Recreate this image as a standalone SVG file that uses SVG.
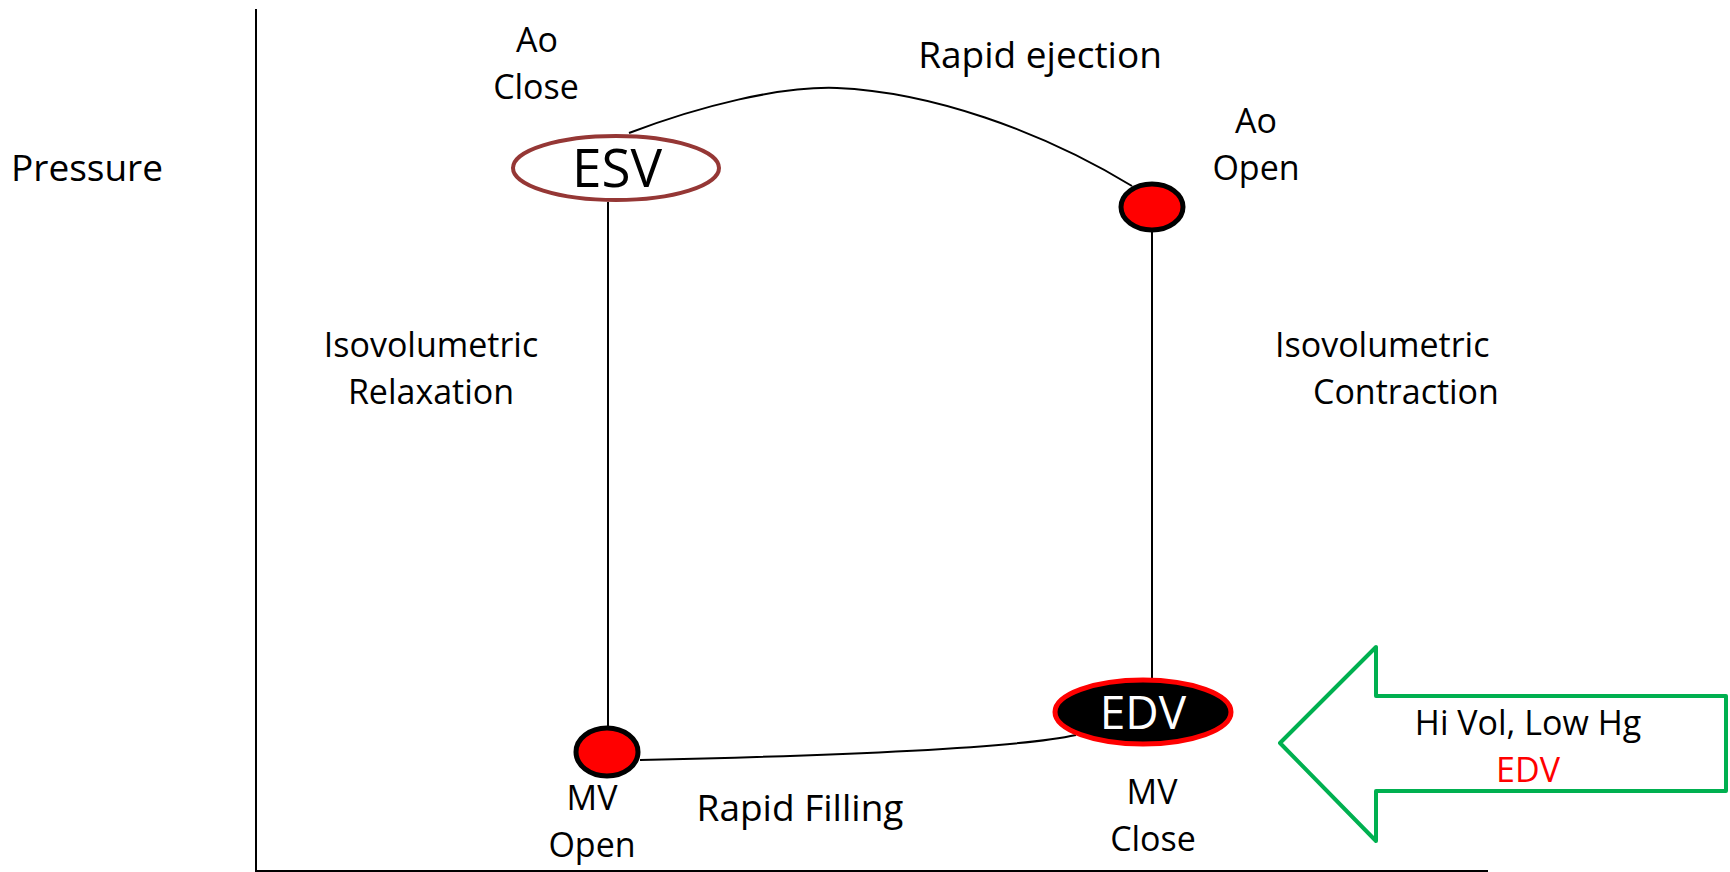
<svg xmlns="http://www.w3.org/2000/svg" width="1730" height="872" viewBox="0 0 1730 872">
<style>
text{font-family:"Comic Sans MS","Open Sans","Liberation Sans",sans-serif;fill:#000;}
.lbl{font-size:34px;}
.big{font-size:37px;}
.c{text-anchor:middle;}
.line{fill:none;stroke:#000;stroke-width:2;}
.dot{fill:#ff0000;stroke:#000;stroke-width:5;}
</style>
<rect width="1730" height="872" fill="#fff"/>
<g id="axes">
<line x1="256" y1="9" x2="256" y2="871" stroke="#000" stroke-width="2"/>
<line x1="255" y1="871" x2="1488" y2="871" stroke="#000" stroke-width="2"/>
<text class="big" x="11" y="181">Pressure</text>
</g>
<g id="connectors">
<path class="line" d="M629,133 C700,106 780,86 837,88 C930,92 1040,130 1132,186"/>
<line class="line" x1="608" y1="202" x2="608" y2="727"/>
<line class="line" x1="1152" y1="231" x2="1152" y2="678"/>
<path class="line" d="M640,760 Q1000,752 1076,735"/>
</g>
<g id="esv">
<ellipse cx="616" cy="168" rx="103" ry="32" fill="#fff" stroke="#953735" stroke-width="4"/>
<text class="c" x="617" y="187" font-size="53">ESV</text>
</g>
<g id="ao-open">
<ellipse class="dot" cx="1152" cy="207" rx="31" ry="23"/>
</g>
<g id="mv-open">
<ellipse class="dot" cx="607" cy="752" rx="31" ry="24"/>
</g>
<g id="edv">
<ellipse cx="1143" cy="712" rx="88" ry="32" fill="#000" stroke="#ff0000" stroke-width="5"/>
<text class="c" x="1143" y="729" font-size="46" style="fill:#fff">EDV</text>
</g>
<g id="labels">
<text class="lbl c" x="537" y="52">Ao</text>
<text class="lbl c" x="536" y="99">Close</text>
<text class="big c" x="1040" y="68">Rapid ejection</text>
<text class="lbl c" x="1256" y="133">Ao</text>
<text class="lbl c" x="1256" y="180">Open</text>
<text class="lbl c" x="431" y="357">Isovolumetric</text>
<text class="lbl c" x="431" y="404">Relaxation</text>
<text class="lbl" x="1275" y="357">Isovolumetric</text>
<text class="lbl" x="1313" y="404">Contraction</text>
<text class="lbl c" x="592" y="810">MV</text>
<text class="lbl c" x="592" y="857">Open</text>
<text class="big c" x="800" y="821">Rapid Filling</text>
<text class="lbl c" x="1152" y="804">MV</text>
<text class="lbl c" x="1153" y="851">Close</text>
</g>
<g id="arrow">
<polygon points="1280,743 1376,647 1376,696 1726,696 1726,791 1376,791 1376,841" fill="#fff" stroke="#00b050" stroke-width="4" stroke-linejoin="round"/>
<text class="lbl c" x="1528" y="735">Hi Vol, Low Hg</text>
<text class="lbl c" x="1528" y="782" style="fill:#ff0000">EDV</text>
</g>
</svg>
